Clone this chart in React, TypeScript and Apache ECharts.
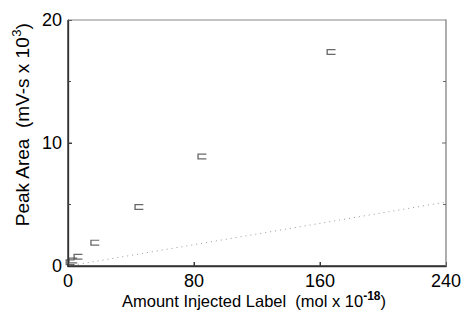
import React, { useEffect, useRef } from "react";
import * as echarts from "echarts";

const xTicks = [0, 80, 160, 240];
const yTicks = [0, 10, 20];
const yMinorTicks = [5, 15];
const measuredX = [1.3, 3, 6.3, 17, 45, 85, 167];
const measuredY = [0.3, 0.45, 0.75, 1.9, 4.8, 8.9, 17.4];
const lineX = [0, 240];
const lineY = [0, 5.2];

export default function App() {
  const ref = useRef<HTMLDivElement>(null);
  useEffect(() => {
    const chart = echarts.init(ref.current!, null, { renderer: "svg" });
    const font = "'Liberation Sans', Arial, sans-serif";
    chart.setOption({
      animation: false,
      backgroundColor: "#fff",
      grid: { left: 68, right: 16, top: 20, bottom: 56, containLabel: false },
      xAxis: {
        type: "value",
        min: 0,
        max: 240,
        interval: 80,
        axisLine: { show: true, onZero: false, lineStyle: { color: "#333", width: 1.3 } },
        axisTick: { show: true, inside: true, length: 4, lineStyle: { color: "#333" } },
        splitLine: { show: false },
        axisLabel: {
          color: "#000",
          fontFamily: font,
          fontSize: 18,
          margin: 6,
          formatter: (v: number) => (xTicks.includes(v) ? String(v) : ""),
        },
      },
      yAxis: {
        type: "value",
        min: 0,
        max: 20,
        interval: 10,
        axisLine: { show: true, onZero: false, lineStyle: { color: "#333", width: 1.3 } },
        axisTick: { show: true, inside: true, length: 4, lineStyle: { color: "#333" } },
        splitLine: { show: false },
        axisLabel: {
          color: "#000",
          fontFamily: font,
          fontSize: 18,
          margin: 6,
          formatter: (v: number) => (yTicks.includes(v) ? String(v) : ""),
        },
      },
      series: [
        {
          type: "line",
          data: lineX.map((x, i) => [x, lineY[i]]),
          showSymbol: false,
          lineStyle: { color: "#999", width: 1, type: [1, 4] },
          z: 1,
        },
        {
          type: "scatter",
          data: measuredX.map((x, i) => [x, measuredY[i]]),
          symbol: "path://M0,0H10V1.5H1.5V6H10V7.5H0Z",
          symbolSize: [9, 6],
          itemStyle: { color: "#444" },
          z: 3,
        },
      ],
      graphic: [
        {
          id: "ytitle",
          type: "text",
          x: 22,
          y: 125,
          rotation: Math.PI / 2,
          style: {
            text: "Peak Area  (mV-s x 10{sup|3})",
            rich: { sup: { fontSize: 13, fontFamily: font, fill: "#000", padding: [0, 0, 12, 0] } },
            fontFamily: font,
            fontSize: 19,
            fill: "#000",
            align: "center",
            verticalAlign: "middle",
          },
        },
        {
          id: "xtitle",
          type: "text",
          x: 254,
          y: 301,
          style: {
            text: "Amount Injected Label  (mol x 10{sup|-18})",
            rich: { sup: { fontSize: 12, fontWeight: "bold", fontFamily: font, fill: "#000", padding: [0, 0, 11, 0] } },
            fontFamily: font,
            fontSize: 16.5,
            fill: "#000",
            align: "center",
            verticalAlign: "middle",
          },
        },
      ],
    });
    // axis frame drawn as thin filled bars, placed through the axes' scales
    const px = (x: number, y: number) => chart.convertToPixel({ gridIndex: 0 }, [x, y]) as number[];
    const [x0, y1] = px(0, 20);
    const [x1, y0] = px(240, 0);
    const bar = (id: string, x: number, y: number, w: number, h: number, fill: string) => ({
      id,
      type: "rect",
      silent: true,
      z: 5,
      shape: { x, y, width: w, height: h },
      style: { fill },
    });
    const els: any[] = [
      bar("fl", x0 - 0.7, y1, 1.4, y0 - y1 + 0.7, "#333"),
      bar("fb", x0 - 0.7, y0 - 0.7, x1 - x0 + 1.4, 1.4, "#333"),
      bar("ft", x0, y1 - 0.6, x1 - x0, 1.2, "#888"),
      bar("fr", x1 - 0.6, y1 - 0.6, 1.2, y0 - y1 + 0.6, "#777"),
    ];
    [10, ...yMinorTicks].forEach((v, i) => {
      const p = px(0, v);
      els.push(bar("lt" + i, p[0], p[1] - 0.5, i === 0 ? 4 : 3, 1, "#444"));
      const q = px(240, v);
      els.push(bar("rt" + i, q[0] - (i === 0 ? 4 : 3), q[1] - 0.5, i === 0 ? 4 : 3, 1, "#666"));
    });
    [80, 160].forEach((v, i) => {
      const p = px(v, 0);
      els.push(bar("bt" + i, p[0] - 0.5, p[1] - 4, 1, 4, "#444"));
    });
    chart.setOption({ graphic: els });
    return () => chart.dispose();
  }, []);
  return <div ref={ref} style={{ width: 464, height: 322, position: "absolute", left: 0, top: 0 }} />;
}
